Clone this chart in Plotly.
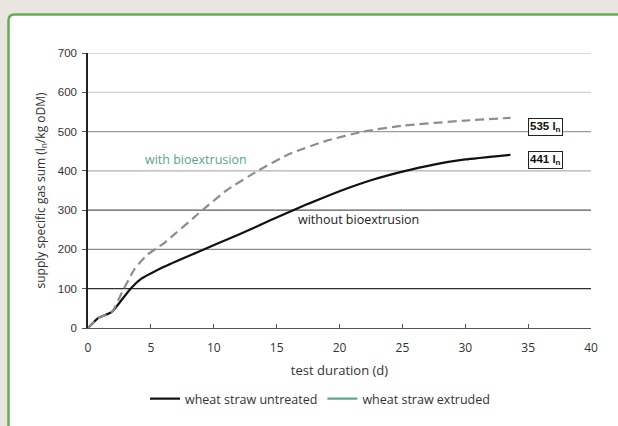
import plotly.graph_objects as go

# Cumulative specific gas yield over the test duration
days_untreated = [0, 0.8, 1.9, 3.3, 4.1, 6, 8.7, 12, 14.5, 17.5, 20, 22.5, 25, 27.5, 30, 33.6]
gas_untreated = [0, 25, 41, 97, 122, 155, 193, 238, 274, 316, 348, 376, 398, 416, 429, 441]

days_extruded = [0, 0.8, 1.9, 2.8, 3.7, 4.7, 6, 9.1, 11, 13.5, 16, 19, 21.9, 25, 30, 33.6]
gas_extruded = [0, 25, 41, 97, 150, 186, 215, 300, 350, 400, 443, 477, 500, 515, 528, 535]

final_untreated = 441
final_extruded = 535

y_ticks = [0, 100, 200, 300, 400, 500, 600, 700]
x_ticks = [0, 5, 10, 15, 20, 25, 30, 35, 40]

W, H = 618, 426
L, R, T, B = 88, 27, 53, 98
PW, PH = W - L - R, H - T - B


def px(x):
    return (x - L) / PW


def py(y):
    return (H - B - y) / PH


TEXT = "#333333"
GREEN_TEXT = "#5aa58a"

fig = go.Figure()

fig.add_trace(go.Scatter(
    x=days_untreated, y=gas_untreated, mode="lines",
    line=dict(color="#111111", width=2.2, shape="spline", smoothing=0.4),
    showlegend=False, hoverinfo="skip"))
fig.add_trace(go.Scatter(
    x=days_extruded, y=gas_extruded, mode="lines",
    line=dict(color="#85928c", width=2.2, dash="9px,5px", shape="spline", smoothing=0.5),
    showlegend=False, hoverinfo="skip"))

# legend entries
fig.add_trace(go.Scatter(x=[None], y=[None], mode="lines", name="wheat straw untreated",
                         line=dict(color="#111111", width=2.2)))
fig.add_trace(go.Scatter(x=[None], y=[None], mode="lines", name="wheat straw extruded",
                         line=dict(color="#5aa58a", width=2.2)))

shapes = []
# white rounded panel with green border
r = 6
x0, y0 = 8.5, 14.5
x1, y1 = W + 10, H + 10
path = (f"M {px(x0)},{py(y1)} L {px(x0)},{py(y0 + r)} "
        f"Q {px(x0)},{py(y0)} {px(x0 + r)},{py(y0)} "
        f"L {px(x1)},{py(y0)} L {px(x1)},{py(y1)} Z")
shapes.append(dict(type="path", path=path, xref="paper", yref="paper",
                   fillcolor="white", line=dict(color="#6aaa52", width=2.5),
                   layer="below"))

# horizontal grid lines
grid_colors = {100: "#303030", 200: "#8c8c8c", 300: "#5a5a5a", 400: "#b0b0b0",
               500: "#9c9c9c", 600: "#d2d2d2", 700: "#b4b4b4"}
for v, c in grid_colors.items():
    shapes.append(dict(type="line", xref="paper", yref="y", x0=0, x1=1, y0=v, y1=v,
                       line=dict(color=c, width=1.2), layer="below"))

fig.update_layout(
    width=W, height=H,
    margin=dict(l=L, r=R, t=T, b=B),
    paper_bgcolor="#e9e6e1",
    plot_bgcolor="rgba(0,0,0,0)",
    shapes=shapes,
    font=dict(family="Open Sans", size=12, color=TEXT),
    xaxis=dict(range=[0, 40], tickvals=x_ticks, ticks="inside", ticklen=4,
               tickcolor="#555555", showline=True, linecolor="#555555", linewidth=1,
               showgrid=False, zeroline=False, ticklabelstandoff=9,
               tickfont=dict(family="Open Sans", size=12, color=TEXT),
               title=dict(text="test duration (d)", standoff=10,
                          font=dict(family="Open Sans", size=13, color=TEXT))),
    yaxis=dict(range=[0, 700], tickvals=y_ticks, ticks="outside", ticklen=4,
               tickcolor="#555555", showline=True, linecolor="#222222", linewidth=1.5,
               showgrid=False, zeroline=False, ticklabelstandoff=3,
               tickfont=dict(family="Liberation Sans", size=11.5, color=TEXT),
               title=dict(text="supply specific gas sum (l<sub>n</sub>/kg oDM)", standoff=10,
                          font=dict(family="Open Sans", size=12, color=TEXT))),
    legend=dict(orientation="h", x=px(320), xanchor="center", y=py(399), yanchor="middle",
                bgcolor="rgba(0,0,0,0)", font=dict(family="Open Sans", size=12.5, color=TEXT),
                itemwidth=30),
    annotations=[
        dict(x=8.6, y=430, xref="x", yref="y", text="with bioextrusion", showarrow=False,
             font=dict(family="Open Sans", size=12.5, color=GREEN_TEXT)),
        dict(x=21.5, y=275, xref="x", yref="y", text="without bioextrusion", showarrow=False,
             font=dict(family="Open Sans", size=12.5, color="#222222")),
        dict(x=35.0, y=final_extruded - 23, xref="x", yref="y", xanchor="left",
             text=f"<b>{final_extruded} l<sub>n</sub></b>", showarrow=False,
             bordercolor="#222222", borderwidth=1, borderpad=1, bgcolor="white",
             font=dict(family="Liberation Sans", size=11.5, color="#111111")),
        dict(x=35.0, y=final_untreated - 14, xref="x", yref="y", xanchor="left",
             text=f"<b>{final_untreated} l<sub>n</sub></b>", showarrow=False,
             bordercolor="#222222", borderwidth=1, borderpad=1, bgcolor="white",
             font=dict(family="Liberation Sans", size=11.5, color="#111111")),
    ],
)

fig.write_html("out.html")
